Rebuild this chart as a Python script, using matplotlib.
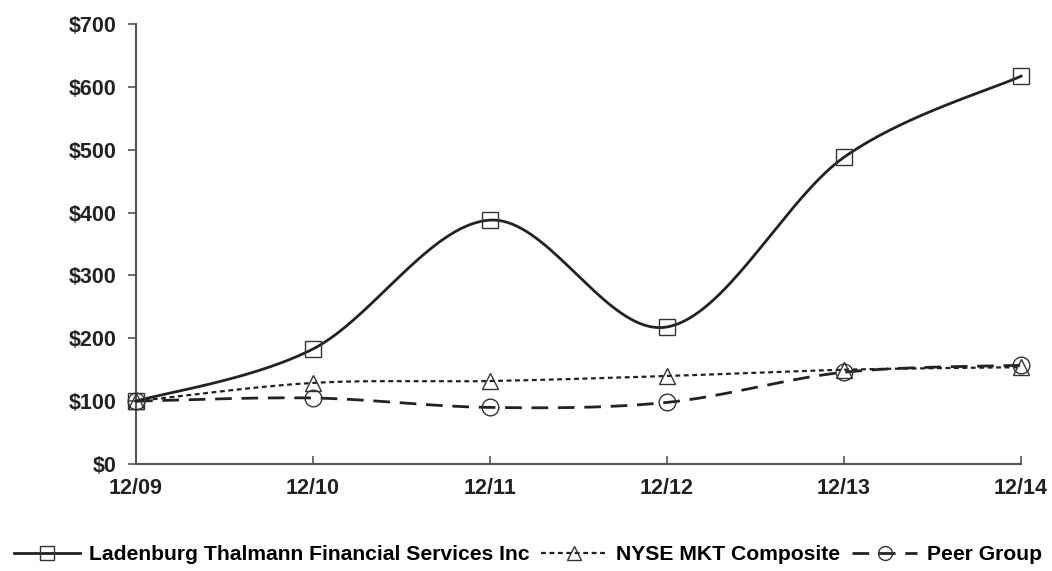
"""Cumulative total return chart, smoothed lines like the Excel original"""
import numpy as np
import matplotlib
matplotlib.use("Agg")
import matplotlib.pyplot as plt
from matplotlib.lines import Line2D

# Данные
years = ["12/09", "12/10", "12/11", "12/12", "12/13", "12/14"]
ladenburg = [100, 183, 388, 218, 488, 617]
nyse_mkt = [100, 129, 132, 140, 150, 154]
peer_group = [100, 105, 90, 98, 146, 157]

names = ["Ladenburg Thalmann Financial Services Inc", "NYSE MKT Composite", "Peer Group"]

plt.rcParams['font.family'] = ['Liberation Sans', 'DejaVu Sans']
plt.rcParams['font.weight'] = 'bold'

ink = "#222222"
axis_col = "#555555"


def smooth(xs, ys, n=40):
    # Catmull-Rom, как сглаживание линий в Excel
    xs = np.asarray(xs, float)
    ys = np.asarray(ys, float)
    px = np.concatenate([[xs[0]], xs, [xs[-1]]])
    py = np.concatenate([[ys[0]], ys, [ys[-1]]])
    out_x, out_y = [], []
    t = np.linspace(0, 1, n)
    for i in range(1, len(px) - 2):
        p0x, p1x, p2x, p3x = px[i - 1:i + 3]
        p0y, p1y, p2y, p3y = py[i - 1:i + 3]
        c1x, c1y = p1x + (p2x - p0x) / 6, p1y + (p2y - p0y) / 6
        c2x, c2y = p2x - (p3x - p1x) / 6, p2y - (p3y - p1y) / 6
        bx = (1 - t) ** 3 * p1x + 3 * (1 - t) ** 2 * t * c1x + 3 * (1 - t) * t ** 2 * c2x + t ** 3 * p2x
        by = (1 - t) ** 3 * p1y + 3 * (1 - t) ** 2 * t * c1y + 3 * (1 - t) * t ** 2 * c2y + t ** 3 * p2y
        out_x.extend(bx)
        out_y.extend(by)
    return np.array(out_x), np.array(out_y)


fig = plt.figure(figsize=(10.52, 5.71), dpi=100)
ax = fig.add_axes([136 / 1052, 1 - 464 / 571, (1021 - 136) / 1052, (464 - 24) / 571])

x = np.arange(len(years))
styles = [
    dict(ls="-", marker="s", dashes=None, lw=2.0),
    dict(ls="--", marker="^", dashes=(2.2, 1.6), lw=1.6),
    dict(ls="--", marker="o", dashes=(6, 3.5), lw=2.0),
]
handles = []
for vals, st, name in zip([ladenburg, nyse_mkt, peer_group], styles, names):
    sx, sy = smooth(x, vals)
    line, = ax.plot(sx, sy, color=ink, lw=st["lw"], ls=st["ls"], zorder=3, clip_on=False)
    if st["dashes"]:
        line.set_dashes(st["dashes"])
    ax.plot(x, vals, ls="none", marker=st["marker"], ms=12, mfc="none",
            mec="#333333", mew=1.0, zorder=4, clip_on=False)
    h = Line2D([0], [0], color=ink, lw=st["lw"], ls=st["ls"], marker=st["marker"],
               ms=10, mfc="none", mec="#333333", mew=1.0)
    if st["dashes"]:
        h.set_dashes(st["dashes"])
    handles.append(h)

ax.set_xlim(0, len(years) - 1)
ax.set_ylim(0, 700)
ax.set_xticks(x)
ax.set_xticklabels(years)
ax.set_yticks(range(0, 701, 100))
ax.set_yticklabels([f"${v}" for v in range(0, 701, 100)])

for side in ["top", "right"]:
    ax.spines[side].set_visible(False)
for side in ["left", "bottom"]:
    ax.spines[side].set_color(axis_col)
    ax.spines[side].set_linewidth(1.5)
ax.tick_params(axis="y", direction="out", length=6, width=1.2, color=axis_col,
               labelsize=15.5, labelcolor=ink, pad=8)
ax.tick_params(axis="x", direction="in", length=6, width=1.2, color=axis_col,
               labelsize=15.5, labelcolor=ink, pad=10)
for lab in ax.get_xticklabels() + ax.get_yticklabels():
    lab.set_fontweight("bold")

fig.legend(handles, names, loc="center", bbox_to_anchor=(0.502, 1 - 555 / 571), ncol=3,
           frameon=False, handlelength=3.1, handletextpad=0.45,
           columnspacing=0.55, borderpad=0, borderaxespad=0,
           prop={"weight": "bold", "size": 15.2})

fig.savefig("out.png", dpi=100)
